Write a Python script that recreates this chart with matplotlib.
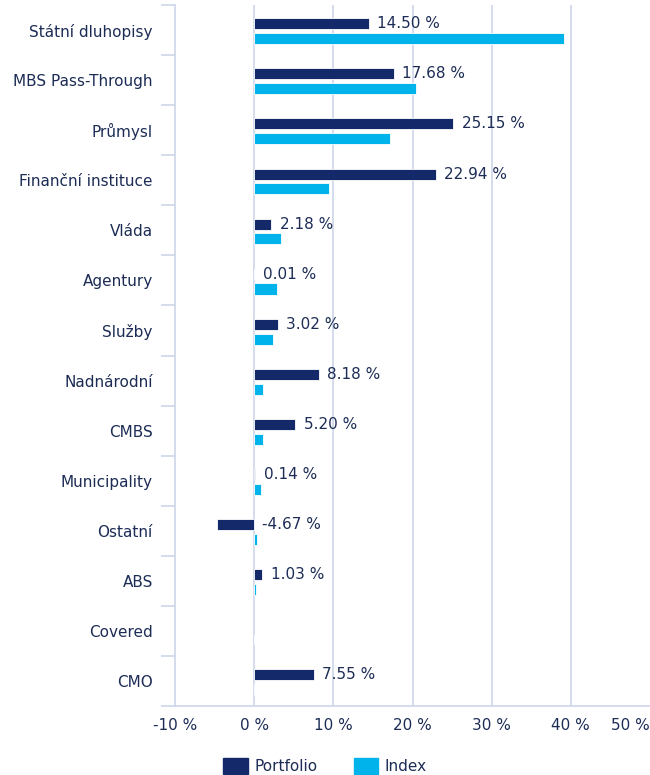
import numpy as np
import matplotlib
matplotlib.use("Agg")
import matplotlib.pyplot as plt
from matplotlib.patches import Patch

# --- data ---
categories = ["Státní dluhopisy", "MBS Pass-Through", "Průmysl", "Finanční instituce",
              "Vláda", "Agentury", "Služby", "Nadnárodní", "CMBS", "Municipality",
              "Ostatní", "ABS", "Covered", "CMO"]
portfolio = [14.50, 17.68, 25.15, 22.94, 2.18, 0.01, 3.02, 8.18, 5.20, 0.14,
             -4.67, 1.03, np.nan, 7.55]
index_vals = [39.1, 20.5, 17.2, 9.4, 3.4, 2.9, 2.4, 1.1, 1.1, 0.8, 0.4, 0.2, 0.0, 0.0]
x_ticks = [-10, 0, 10, 20, 30, 40, 50]
x_ticklabels = ["-10 %", "0 %", "10 %", "20 %", "30 %", "40 %", "50 %"]

C_PORT = "#13296a"
C_INDEX = "#00b4eb"
C_TEXT = "#1c2c55"
C_GRID = "#ccd6eb"

plt.rcParams["font.family"] = ["DejaVu Sans"]

fig = plt.figure(figsize=(6.5, 7.75), dpi=100)
W, H = 650, 775
ax = fig.add_axes([175 / W, 1 - 706 / H, (650 - 175) / W, (706 - 5) / H])

y = np.arange(len(categories))
bh = 0.22
ax.barh(y - 0.124, portfolio, height=bh, color=C_PORT, edgecolor="white",
        linewidth=0.6, zorder=3, label="Portfolio")
ax.barh(y + 0.172, index_vals, height=bh, color=C_INDEX, edgecolor="white",
        linewidth=0.6, zorder=3, label="Index")

# data labels for the portfolio series
for yi, v in zip(y, portfolio):
    if np.isnan(v):
        continue
    ax.annotate(f"{v:.2f} %", xy=(max(v, 0), yi - 0.124), xytext=(6, 0),
                textcoords="offset points", va="center", ha="left",
                fontsize=11, color=C_TEXT, zorder=4)

ax.set_xlim(-10, 50)
ax.set_ylim(len(categories) - 0.5, -0.5)

# vertical grid lines
for t in x_ticks[1:-1]:
    ax.axvline(t, color=C_GRID, lw=1.2, zorder=1)

ax.set_xticks(x_ticks)
ax.set_xticklabels(x_ticklabels, fontsize=11, color=C_TEXT)
ax.tick_params(axis="x", length=0, pad=9)
xt = ax.get_xticklabels()
xt[-1].set_ha("right")

# category labels in the middle, tick marks on the boundaries
ax.set_yticks(y)
ax.set_yticklabels(categories, fontsize=11, color=C_TEXT)
ax.tick_params(axis="y", which="major", length=0, pad=16)
ax.set_yticks(np.arange(-0.5, len(categories), 1.0), minor=True)
ax.tick_params(axis="y", which="minor", length=10, width=1.2, color=C_GRID)

for s in ["top", "right"]:
    ax.spines[s].set_visible(False)
for s in ["left", "bottom"]:
    ax.spines[s].set_color(C_GRID)
    ax.spines[s].set_linewidth(1.2)

handles = [Patch(color=C_PORT, label="Portfolio"), Patch(color=C_INDEX, label="Index")]
leg = fig.legend(handles=handles, loc="center", bbox_to_anchor=(0.5, 1 - 766 / H),
                 ncol=2, frameon=False, fontsize=11, handlelength=1.6,
                 handleheight=1.2, handletextpad=0.4, columnspacing=2.4)
for t in leg.get_texts():
    t.set_color(C_TEXT)

fig.savefig("out.png", dpi=100)
